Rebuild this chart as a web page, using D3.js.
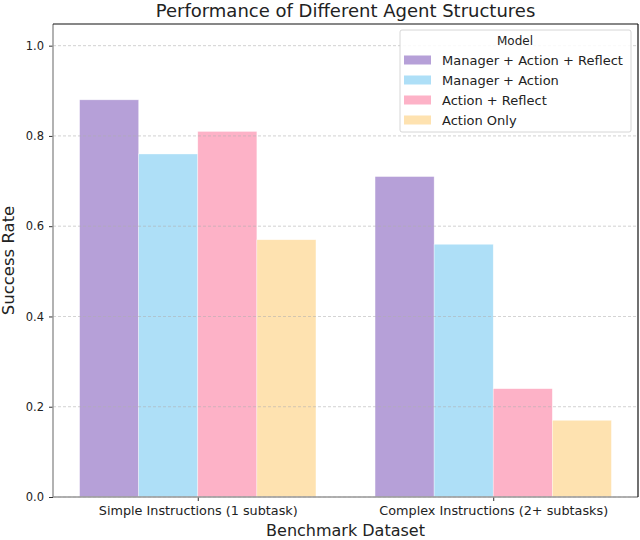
<!DOCTYPE html>
<html><head><meta charset="utf-8">
<script src="https://cdn.jsdelivr.net/npm/d3@7"></script>
<style>body{margin:0;background:#fff}svg{display:block;font-family:"DejaVu Sans",sans-serif}</style>
</head><body><svg id="c" width="640" height="540"></svg>
<script>
const categories = ["Simple Instructions (1 subtask)", "Complex Instructions (2+ subtasks)"];
const seriesNames = ["Manager + Action + Reflect", "Manager + Action", "Action + Reflect", "Action Only"];
const seriesValues = [
  [0.88, 0.71],
  [0.76, 0.56],
  [0.81, 0.24],
  [0.57, 0.17]
];
const seriesColors = ["#b6a0d8", "#aedff7", "#fdb2c7", "#fee2b0"];
const yTicks = [0.0, 0.2, 0.4, 0.6, 0.8, 1.0];

const svg = d3.select("#c");
const L = 53, R = 638, T = 24, B = 497;
const x = d3.scaleLinear().domain([-0.49, 1.49]).range([L, R]);
const y = d3.scaleLinear().domain([0, 1.048]).range([B, T]);
const bw = 0.2;

// bars
seriesValues.forEach((vals, s) => {
  svg.append("g").selectAll("rect").data(vals).join("rect")
    .attr("x", (d, i) => x(i + (s - 1.5) * bw - bw / 2))
    .attr("width", x(bw) - x(0))
    .attr("y", d => y(d))
    .attr("height", d => y(0) - y(d))
    .attr("fill", seriesColors[s])
    .attr("stroke", "#fff").attr("stroke-width", 0.6).attr("stroke-opacity", 0.6);
});

// grid
svg.append("g").selectAll("line").data(yTicks).join("line")
  .attr("x1", L).attr("x2", R).attr("y1", d => y(d)).attr("y2", d => y(d))
  .attr("stroke", "#b0b0b0").attr("stroke-width", 0.8).attr("stroke-dasharray", "3,2").attr("opacity", 0.7);

// y axis
const ya = svg.append("g").attr("transform", `translate(${L},0)`)
  .call(d3.axisLeft(y).tickValues(yTicks).tickFormat(d3.format(".1f")).tickSize(4).tickPadding(5));
ya.select(".domain").remove();
ya.selectAll("line").attr("stroke", "#333");
ya.selectAll("text").attr("font-size", 11.5).attr("fill", "#222").attr("font-family", "DejaVu Sans");

// x axis
const xa = svg.append("g").attr("transform", `translate(0,${B})`)
  .call(d3.axisBottom(x).tickValues([0, 1]).tickFormat((d, i) => categories[i]).tickSize(4).tickPadding(5));
xa.select(".domain").remove();
xa.selectAll("line").attr("stroke", "#333");
xa.selectAll("text").attr("font-size", 12.8).attr("fill", "#222").attr("font-family", "DejaVu Sans");

// spines
svg.append("line").attr("x1", L).attr("x2", L).attr("y1", T).attr("y2", B).attr("stroke", "#999").attr("stroke-width", 1.5);
svg.append("line").attr("x1", L).attr("x2", R).attr("y1", B).attr("y2", B).attr("stroke", "#999").attr("stroke-width", 1.5);
svg.append("line").attr("x1", L).attr("x2", R).attr("y1", T).attr("y2", T).attr("stroke", "#111").attr("stroke-width", 1.2);
svg.append("line").attr("x1", R).attr("x2", R).attr("y1", T).attr("y2", B).attr("stroke", "#111").attr("stroke-width", 1.2);

// title & labels
svg.append("text").attr("x", (L + R) / 2).attr("y", 17).attr("text-anchor", "middle")
  .attr("font-size", 18).attr("fill", "#222").text("Performance of Different Agent Structures");
svg.append("text").attr("x", (L + R) / 2).attr("y", 536).attr("text-anchor", "middle")
  .attr("font-size", 16).attr("fill", "#222").text("Benchmark Dataset");
svg.append("text").attr("transform", `translate(14,${(T + B) / 2}) rotate(-90)`).attr("text-anchor", "middle")
  .attr("font-size", 16.5).attr("fill", "#222").text("Success Rate");

// legend
const lg = svg.append("g").attr("transform", "translate(400,30)");
lg.append("rect").attr("width", 231).attr("height", 102).attr("rx", 2)
  .attr("fill", "#fff").attr("fill-opacity", 0.85).attr("stroke", "#ccc").attr("stroke-width", 0.8);
lg.append("text").attr("x", 115).attr("y", 14.5).attr("text-anchor", "middle").attr("font-size", 12).attr("fill", "#222").text("Model");
seriesNames.forEach((n, i) => {
  lg.append("rect").attr("x", 4).attr("y", 25.5 + i * 20).attr("width", 27).attr("height", 9).attr("fill", seriesColors[i]);
  lg.append("text").attr("x", 42).attr("y", 34.5 + i * 20).attr("font-size", 13).attr("fill", "#222").text(n);
});
</script></body></html>
